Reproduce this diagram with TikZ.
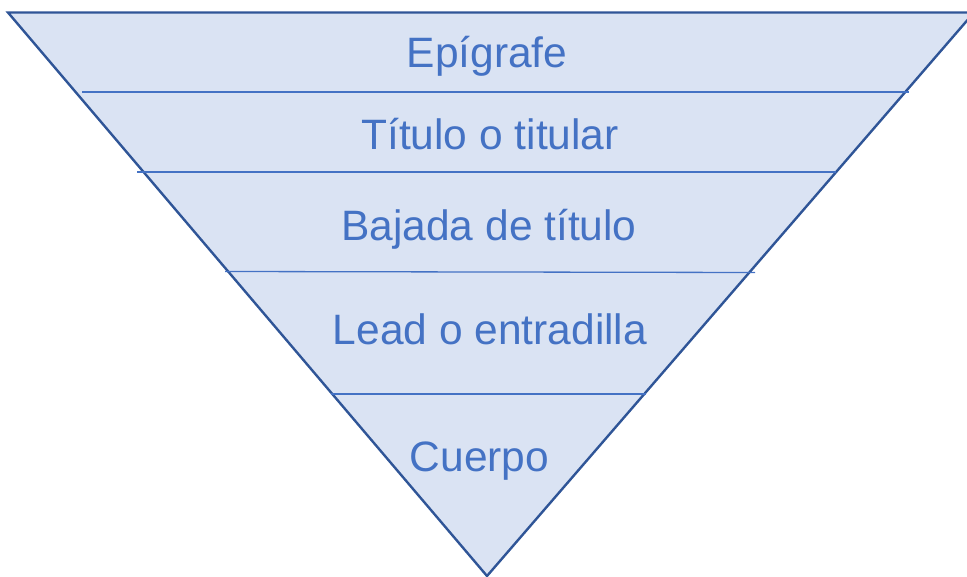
\documentclass[tikz,border=0pt]{standalone}
\usepackage{fontspec}
\setmainfont{Liberation Sans}
\definecolor{fillblue}{HTML}{DAE3F3}
\definecolor{edgeblue}{HTML}{2F5597}
\definecolor{lineblue}{HTML}{4472C4}
\definecolor{textblue}{HTML}{4472C4}
\tikzset{
  layertext/.style={anchor=base, inner sep=0pt, text=textblue, font=\fontsize{42.5}{50}\selectfont},
  divider/.style={draw=lineblue, line width=1.3pt},
  funnel/.style={fill=fillblue, draw=edgeblue, line width=2.4pt, line join=miter}
}
\begin{document}
\begin{tikzpicture}[x=1pt,y=-1pt]
\useasboundingbox (0,0) rectangle (967,577);
\coordinate (tl) at (8,12.5);
\coordinate (tr) at (974,12.5);
\coordinate (ap) at (487,576);
\path[funnel] (tl) -- (tr) -- (ap) -- cycle;
% dividers
\coordinate (d1l) at (82,92);   \coordinate (d1r) at (909,92);
\coordinate (d2l) at (137,172); \coordinate (d2r) at (836,172);
\coordinate (d3l) at (225,271.5); \coordinate (d3r) at (755,272.5);
\coordinate (d4l) at (331,394); \coordinate (d4r) at (646,394);
\draw[divider] (d1l) -- (d1r);
\draw[divider] (d2l) -- (d2r);
\draw[divider] (d3l) -- (d3r);
\draw[divider] (d4l) -- (d4r);
% texts
\node[layertext] (t1) at (487,68) {Epígrafe};
\node[layertext] (t2) at (490,150) {Título o titular};
\node[layertext] (t3) at (489,241) {Bajada de título};
\node[layertext] (t4) at (490,345) {Lead o entradilla};
\node[layertext] (t5) at (479.5,471) {Cuerpo};
\end{tikzpicture}
\end{document}
